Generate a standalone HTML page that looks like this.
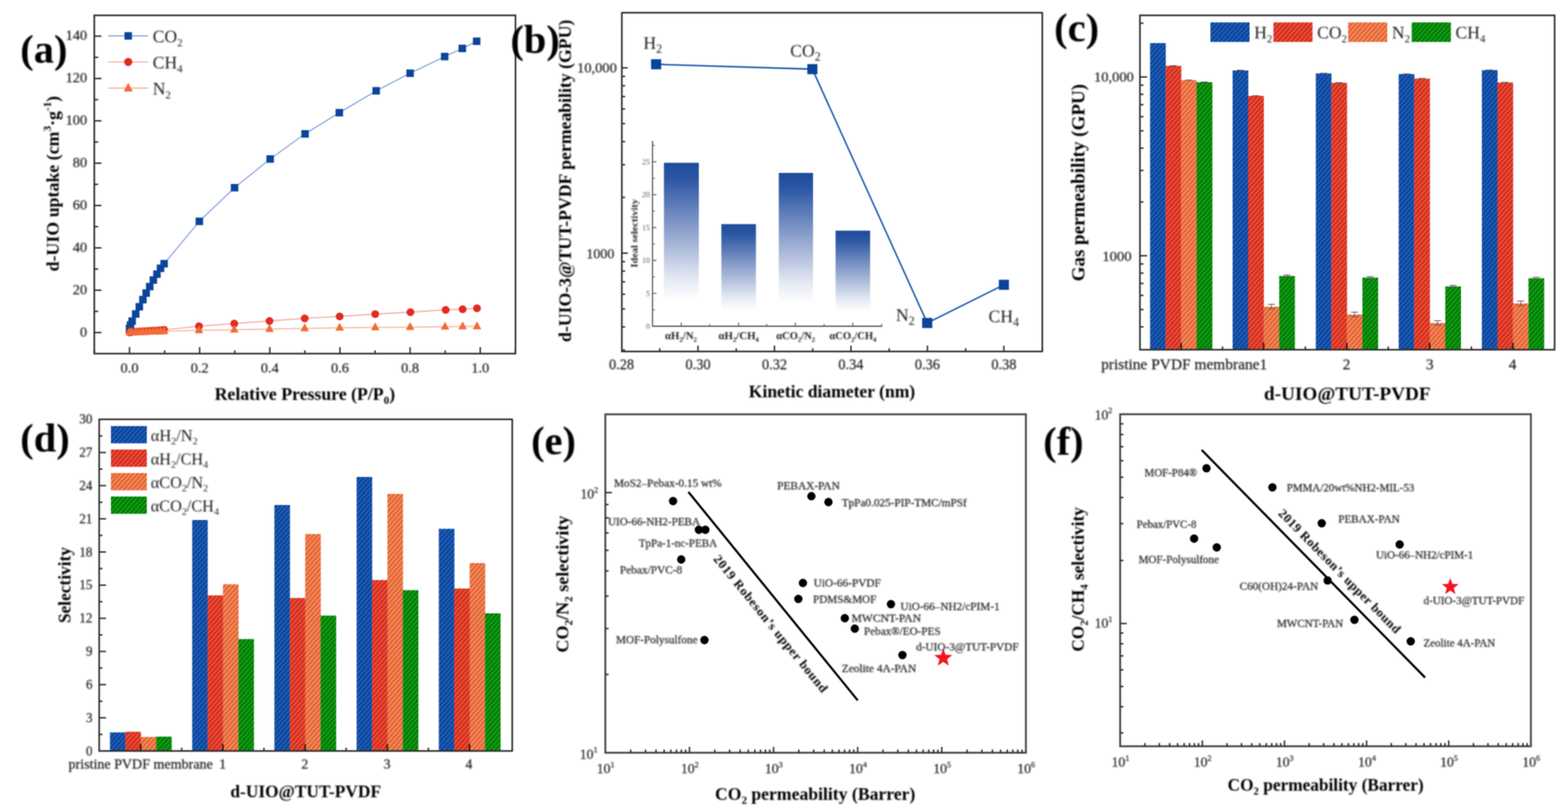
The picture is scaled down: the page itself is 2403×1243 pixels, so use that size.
<!DOCTYPE html>
<html lang="en"><head><meta charset="utf-8"><title>Gas separation figure</title>
<style>
html,body{margin:0;padding:0;background:#fff;}
body{width:2403px;height:1243px;overflow:hidden;}
svg{display:block;font-family:'Liberation Serif','DejaVu Serif',serif;}
</style></head><body>
<svg width="2403" height="1243" viewBox="0 0 2403 1243">
<defs>
<filter id="bt" x="0" y="0" width="2403" height="1243" filterUnits="userSpaceOnUse" color-interpolation-filters="sRGB"><feGaussianBlur stdDeviation="0.85"/></filter>
<filter id="bl" x="0" y="0" width="2403" height="1243" filterUnits="userSpaceOnUse" color-interpolation-filters="sRGB"><feConvolveMatrix order="3" kernelMatrix="1 2 1 2 4 2 1 2 1" divisor="16" edgeMode="duplicate" preserveAlpha="false"/></filter>
<pattern id="hb" width="5.2" height="5.2" patternUnits="userSpaceOnUse" patternTransform="rotate(-49)"><rect width="5.2" height="5.2" fill="#1d60ba"/><rect y="0" width="5.2" height="2.4" fill="#0b3e92"/></pattern>
<pattern id="hr" width="5.2" height="5.2" patternUnits="userSpaceOnUse" patternTransform="rotate(-49)"><rect width="5.2" height="5.2" fill="#f54a39"/><rect y="0" width="5.2" height="2.4" fill="#c22d1b"/></pattern>
<pattern id="ho" width="5.2" height="5.2" patternUnits="userSpaceOnUse" patternTransform="rotate(-49)"><rect width="5.2" height="5.2" fill="#ff8756"/><rect y="0" width="5.2" height="2.4" fill="#d26236"/></pattern>
<pattern id="hg" width="5.2" height="5.2" patternUnits="userSpaceOnUse" patternTransform="rotate(-49)"><rect width="5.2" height="5.2" fill="#0fa014"/><rect y="0" width="5.2" height="2.4" fill="#037105"/></pattern>
<linearGradient id="gb" x1="0" y1="0" x2="0" y2="1"><stop offset="0" stop-color="#1d4b9c"/><stop offset="0.12" stop-color="#2c57a4"/><stop offset="0.5" stop-color="#8fa3cd"/><stop offset="0.85" stop-color="#e6eaf4"/><stop offset="1" stop-color="#ffffff"/></linearGradient>
</defs>
<rect width="2403" height="1243" fill="#ffffff"/>
<g filter="url(#bl)">
<rect x="144.50" y="23.50" width="645.50" height="518.50" fill="none" stroke="#2e2e2e" stroke-width="2.50"/>
<line x1="144.50" y1="509.70" x2="155.50" y2="509.70" stroke="#2e2e2e" stroke-width="2.20"/>
<line x1="144.50" y1="444.80" x2="155.50" y2="444.80" stroke="#2e2e2e" stroke-width="2.20"/>
<line x1="144.50" y1="379.90" x2="155.50" y2="379.90" stroke="#2e2e2e" stroke-width="2.20"/>
<line x1="144.50" y1="315.00" x2="155.50" y2="315.00" stroke="#2e2e2e" stroke-width="2.20"/>
<line x1="144.50" y1="250.10" x2="155.50" y2="250.10" stroke="#2e2e2e" stroke-width="2.20"/>
<line x1="144.50" y1="185.20" x2="155.50" y2="185.20" stroke="#2e2e2e" stroke-width="2.20"/>
<line x1="144.50" y1="120.30" x2="155.50" y2="120.30" stroke="#2e2e2e" stroke-width="2.20"/>
<line x1="144.50" y1="55.40" x2="155.50" y2="55.40" stroke="#2e2e2e" stroke-width="2.20"/>
<line x1="144.50" y1="477.25" x2="150.50" y2="477.25" stroke="#2e2e2e" stroke-width="2.20"/>
<line x1="144.50" y1="412.35" x2="150.50" y2="412.35" stroke="#2e2e2e" stroke-width="2.20"/>
<line x1="144.50" y1="347.45" x2="150.50" y2="347.45" stroke="#2e2e2e" stroke-width="2.20"/>
<line x1="144.50" y1="282.55" x2="150.50" y2="282.55" stroke="#2e2e2e" stroke-width="2.20"/>
<line x1="144.50" y1="217.65" x2="150.50" y2="217.65" stroke="#2e2e2e" stroke-width="2.20"/>
<line x1="144.50" y1="152.75" x2="150.50" y2="152.75" stroke="#2e2e2e" stroke-width="2.20"/>
<line x1="144.50" y1="87.85" x2="150.50" y2="87.85" stroke="#2e2e2e" stroke-width="2.20"/>
<line x1="198.50" y1="542.00" x2="198.50" y2="532.00" stroke="#2e2e2e" stroke-width="2.20"/>
<line x1="306.00" y1="542.00" x2="306.00" y2="532.00" stroke="#2e2e2e" stroke-width="2.20"/>
<line x1="413.50" y1="542.00" x2="413.50" y2="532.00" stroke="#2e2e2e" stroke-width="2.20"/>
<line x1="521.00" y1="542.00" x2="521.00" y2="532.00" stroke="#2e2e2e" stroke-width="2.20"/>
<line x1="628.50" y1="542.00" x2="628.50" y2="532.00" stroke="#2e2e2e" stroke-width="2.20"/>
<line x1="736.00" y1="542.00" x2="736.00" y2="532.00" stroke="#2e2e2e" stroke-width="2.20"/>
<line x1="144.75" y1="542.00" x2="144.75" y2="537.00" stroke="#2e2e2e" stroke-width="2.20"/>
<line x1="252.25" y1="542.00" x2="252.25" y2="537.00" stroke="#2e2e2e" stroke-width="2.20"/>
<line x1="359.75" y1="542.00" x2="359.75" y2="537.00" stroke="#2e2e2e" stroke-width="2.20"/>
<line x1="467.25" y1="542.00" x2="467.25" y2="537.00" stroke="#2e2e2e" stroke-width="2.20"/>
<line x1="574.75" y1="542.00" x2="574.75" y2="537.00" stroke="#2e2e2e" stroke-width="2.20"/>
<line x1="682.25" y1="542.00" x2="682.25" y2="537.00" stroke="#2e2e2e" stroke-width="2.20"/>
<line x1="789.75" y1="542.00" x2="789.75" y2="537.00" stroke="#2e2e2e" stroke-width="2.20"/>
<polyline points="198.50,503.20 200.00,498.20 202.50,492.20 208.00,481.20 213.50,470.20 219.00,459.20 224.00,449.20 229.50,439.20 235.00,429.20 240.50,420.20 246.00,411.20 251.50,404.20 305.50,339.20 359.50,287.70 414.00,243.70 467.50,205.20 520.00,172.70 576.50,139.20 628.50,112.20 681.50,86.70 708.50,74.20 730.50,63.20" fill="none" stroke="#7d9ed4" stroke-width="1.60" stroke-linejoin="round"/>
<rect x="192.75" y="497.45" width="11.50" height="11.50" fill="#0b459b" stroke="none" stroke-width="0.00"/>
<rect x="194.25" y="492.45" width="11.50" height="11.50" fill="#0b459b" stroke="none" stroke-width="0.00"/>
<rect x="196.75" y="486.45" width="11.50" height="11.50" fill="#0b459b" stroke="none" stroke-width="0.00"/>
<rect x="202.25" y="475.45" width="11.50" height="11.50" fill="#0b459b" stroke="none" stroke-width="0.00"/>
<rect x="207.75" y="464.45" width="11.50" height="11.50" fill="#0b459b" stroke="none" stroke-width="0.00"/>
<rect x="213.25" y="453.45" width="11.50" height="11.50" fill="#0b459b" stroke="none" stroke-width="0.00"/>
<rect x="218.25" y="443.45" width="11.50" height="11.50" fill="#0b459b" stroke="none" stroke-width="0.00"/>
<rect x="223.75" y="433.45" width="11.50" height="11.50" fill="#0b459b" stroke="none" stroke-width="0.00"/>
<rect x="229.25" y="423.45" width="11.50" height="11.50" fill="#0b459b" stroke="none" stroke-width="0.00"/>
<rect x="234.75" y="414.45" width="11.50" height="11.50" fill="#0b459b" stroke="none" stroke-width="0.00"/>
<rect x="240.25" y="405.45" width="11.50" height="11.50" fill="#0b459b" stroke="none" stroke-width="0.00"/>
<rect x="245.75" y="398.45" width="11.50" height="11.50" fill="#0b459b" stroke="none" stroke-width="0.00"/>
<rect x="299.75" y="333.45" width="11.50" height="11.50" fill="#0b459b" stroke="none" stroke-width="0.00"/>
<rect x="353.75" y="281.95" width="11.50" height="11.50" fill="#0b459b" stroke="none" stroke-width="0.00"/>
<rect x="408.25" y="237.95" width="11.50" height="11.50" fill="#0b459b" stroke="none" stroke-width="0.00"/>
<rect x="461.75" y="199.45" width="11.50" height="11.50" fill="#0b459b" stroke="none" stroke-width="0.00"/>
<rect x="514.25" y="166.95" width="11.50" height="11.50" fill="#0b459b" stroke="none" stroke-width="0.00"/>
<rect x="570.75" y="133.45" width="11.50" height="11.50" fill="#0b459b" stroke="none" stroke-width="0.00"/>
<rect x="622.75" y="106.45" width="11.50" height="11.50" fill="#0b459b" stroke="none" stroke-width="0.00"/>
<rect x="675.75" y="80.95" width="11.50" height="11.50" fill="#0b459b" stroke="none" stroke-width="0.00"/>
<rect x="702.75" y="68.45" width="11.50" height="11.50" fill="#0b459b" stroke="none" stroke-width="0.00"/>
<rect x="724.75" y="57.45" width="11.50" height="11.50" fill="#0b459b" stroke="none" stroke-width="0.00"/>
<polyline points="198.50,509.40 200.00,509.10 202.50,508.80 208.00,508.40 213.50,508.10 219.00,507.70 224.00,507.40 229.50,507.10 235.00,506.70 240.50,506.40 246.00,506.00 251.50,505.60 305.00,499.90 359.00,495.90 413.00,491.90 467.00,487.90 520.50,484.90 575.00,481.40 629.00,478.40 683.00,474.90 709.00,473.90 731.00,472.40" fill="none" stroke="#f4a6a0" stroke-width="1.60" stroke-linejoin="round"/>
<circle cx="198.50" cy="509.40" r="6.00" fill="#df2c20"/>
<circle cx="200.00" cy="509.10" r="6.00" fill="#df2c20"/>
<circle cx="202.50" cy="508.80" r="6.00" fill="#df2c20"/>
<circle cx="208.00" cy="508.40" r="6.00" fill="#df2c20"/>
<circle cx="213.50" cy="508.10" r="6.00" fill="#df2c20"/>
<circle cx="219.00" cy="507.70" r="6.00" fill="#df2c20"/>
<circle cx="224.00" cy="507.40" r="6.00" fill="#df2c20"/>
<circle cx="229.50" cy="507.10" r="6.00" fill="#df2c20"/>
<circle cx="235.00" cy="506.70" r="6.00" fill="#df2c20"/>
<circle cx="240.50" cy="506.40" r="6.00" fill="#df2c20"/>
<circle cx="246.00" cy="506.00" r="6.00" fill="#df2c20"/>
<circle cx="251.50" cy="505.60" r="6.00" fill="#df2c20"/>
<circle cx="305.00" cy="499.90" r="6.00" fill="#df2c20"/>
<circle cx="359.00" cy="495.90" r="6.00" fill="#df2c20"/>
<circle cx="413.00" cy="491.90" r="6.00" fill="#df2c20"/>
<circle cx="467.00" cy="487.90" r="6.00" fill="#df2c20"/>
<circle cx="520.50" cy="484.90" r="6.00" fill="#df2c20"/>
<circle cx="575.00" cy="481.40" r="6.00" fill="#df2c20"/>
<circle cx="629.00" cy="478.40" r="6.00" fill="#df2c20"/>
<circle cx="683.00" cy="474.90" r="6.00" fill="#df2c20"/>
<circle cx="709.00" cy="473.90" r="6.00" fill="#df2c20"/>
<circle cx="731.00" cy="472.40" r="6.00" fill="#df2c20"/>
<polyline points="198.50,509.40 202.50,509.30 208.00,509.20 213.50,509.00 219.00,508.80 224.00,508.70 229.50,508.50 235.00,508.40 240.50,508.20 246.00,508.00 251.50,507.80 305.00,506.40 359.00,505.40 413.00,504.40 467.00,503.40 520.50,502.40 575.00,501.90 628.50,501.40 682.00,500.90 709.00,500.40 731.00,500.40" fill="none" stroke="#f9b49a" stroke-width="1.60" stroke-linejoin="round"/>
<polygon points="198.50,501.49 192.00,513.84 205.00,513.84" fill="#f26b38"/>
<polygon points="202.50,501.39 196.00,513.74 209.00,513.74" fill="#f26b38"/>
<polygon points="208.00,501.29 201.50,513.64 214.50,513.64" fill="#f26b38"/>
<polygon points="213.50,501.09 207.00,513.44 220.00,513.44" fill="#f26b38"/>
<polygon points="219.00,500.89 212.50,513.24 225.50,513.24" fill="#f26b38"/>
<polygon points="224.00,500.79 217.50,513.14 230.50,513.14" fill="#f26b38"/>
<polygon points="229.50,500.59 223.00,512.94 236.00,512.94" fill="#f26b38"/>
<polygon points="235.00,500.49 228.50,512.84 241.50,512.84" fill="#f26b38"/>
<polygon points="240.50,500.29 234.00,512.64 247.00,512.64" fill="#f26b38"/>
<polygon points="246.00,500.09 239.50,512.44 252.50,512.44" fill="#f26b38"/>
<polygon points="251.50,499.89 245.00,512.24 258.00,512.24" fill="#f26b38"/>
<polygon points="305.00,498.49 298.50,510.84 311.50,510.84" fill="#f26b38"/>
<polygon points="359.00,497.49 352.50,509.84 365.50,509.84" fill="#f26b38"/>
<polygon points="413.00,496.49 406.50,508.84 419.50,508.84" fill="#f26b38"/>
<polygon points="467.00,495.49 460.50,507.84 473.50,507.84" fill="#f26b38"/>
<polygon points="520.50,494.49 514.00,506.84 527.00,506.84" fill="#f26b38"/>
<polygon points="575.00,493.99 568.50,506.34 581.50,506.34" fill="#f26b38"/>
<polygon points="628.50,493.49 622.00,505.84 635.00,505.84" fill="#f26b38"/>
<polygon points="682.00,492.99 675.50,505.34 688.50,505.34" fill="#f26b38"/>
<polygon points="709.00,492.49 702.50,504.84 715.50,504.84" fill="#f26b38"/>
<polygon points="731.00,492.49 724.50,504.84 737.50,504.84" fill="#f26b38"/>
<line x1="166.00" y1="55.00" x2="227.00" y2="55.00" stroke="#8eabd8" stroke-width="2.20"/>
<rect x="190.75" y="49.25" width="11.50" height="11.50" fill="#0b459b" stroke="none" stroke-width="0.00"/>
<line x1="166.00" y1="95.00" x2="227.00" y2="95.00" stroke="#f7b9b4" stroke-width="2.20"/>
<circle cx="196.50" cy="95.00" r="6.20" fill="#df2c20"/>
<line x1="166.00" y1="135.00" x2="227.00" y2="135.00" stroke="#fbb698" stroke-width="2.20"/>
<polygon points="196.50,127.02 189.50,140.32 203.50,140.32" fill="#f26b38"/>
<rect x="953.00" y="19.50" width="644.30" height="519.20" fill="none" stroke="#2e2e2e" stroke-width="2.50"/>
<line x1="953.00" y1="536.50" x2="958.00" y2="536.50" stroke="#2e2e2e" stroke-width="2.20"/>
<line x1="953.00" y1="501.01" x2="958.00" y2="501.01" stroke="#2e2e2e" stroke-width="2.20"/>
<line x1="953.00" y1="473.49" x2="958.00" y2="473.49" stroke="#2e2e2e" stroke-width="2.20"/>
<line x1="953.00" y1="451.01" x2="958.00" y2="451.01" stroke="#2e2e2e" stroke-width="2.20"/>
<line x1="953.00" y1="431.99" x2="958.00" y2="431.99" stroke="#2e2e2e" stroke-width="2.20"/>
<line x1="953.00" y1="415.52" x2="958.00" y2="415.52" stroke="#2e2e2e" stroke-width="2.20"/>
<line x1="953.00" y1="401.00" x2="958.00" y2="401.00" stroke="#2e2e2e" stroke-width="2.20"/>
<line x1="953.00" y1="388.00" x2="962.00" y2="388.00" stroke="#2e2e2e" stroke-width="2.20"/>
<line x1="953.00" y1="302.51" x2="958.00" y2="302.51" stroke="#2e2e2e" stroke-width="2.20"/>
<line x1="953.00" y1="252.50" x2="958.00" y2="252.50" stroke="#2e2e2e" stroke-width="2.20"/>
<line x1="953.00" y1="217.01" x2="958.00" y2="217.01" stroke="#2e2e2e" stroke-width="2.20"/>
<line x1="953.00" y1="189.49" x2="958.00" y2="189.49" stroke="#2e2e2e" stroke-width="2.20"/>
<line x1="953.00" y1="167.01" x2="958.00" y2="167.01" stroke="#2e2e2e" stroke-width="2.20"/>
<line x1="953.00" y1="147.99" x2="958.00" y2="147.99" stroke="#2e2e2e" stroke-width="2.20"/>
<line x1="953.00" y1="131.52" x2="958.00" y2="131.52" stroke="#2e2e2e" stroke-width="2.20"/>
<line x1="953.00" y1="117.00" x2="958.00" y2="117.00" stroke="#2e2e2e" stroke-width="2.20"/>
<line x1="953.00" y1="104.00" x2="962.00" y2="104.00" stroke="#2e2e2e" stroke-width="2.20"/>
<line x1="1011.10" y1="538.70" x2="1011.10" y2="533.70" stroke="#2e2e2e" stroke-width="2.20"/>
<line x1="1069.70" y1="538.70" x2="1069.70" y2="529.70" stroke="#2e2e2e" stroke-width="2.20"/>
<line x1="1128.30" y1="538.70" x2="1128.30" y2="533.70" stroke="#2e2e2e" stroke-width="2.20"/>
<line x1="1186.90" y1="538.70" x2="1186.90" y2="529.70" stroke="#2e2e2e" stroke-width="2.20"/>
<line x1="1245.50" y1="538.70" x2="1245.50" y2="533.70" stroke="#2e2e2e" stroke-width="2.20"/>
<line x1="1304.10" y1="538.70" x2="1304.10" y2="529.70" stroke="#2e2e2e" stroke-width="2.20"/>
<line x1="1362.70" y1="538.70" x2="1362.70" y2="533.70" stroke="#2e2e2e" stroke-width="2.20"/>
<line x1="1421.30" y1="538.70" x2="1421.30" y2="529.70" stroke="#2e2e2e" stroke-width="2.20"/>
<line x1="1479.90" y1="538.70" x2="1479.90" y2="533.70" stroke="#2e2e2e" stroke-width="2.20"/>
<line x1="1538.50" y1="538.70" x2="1538.50" y2="529.70" stroke="#2e2e2e" stroke-width="2.20"/>
<line x1="1597.10" y1="538.70" x2="1597.10" y2="533.70" stroke="#2e2e2e" stroke-width="2.20"/>
<rect x="1017.50" y="249.50" width="53.50" height="210.50" fill="url(#gb)" stroke="none" stroke-width="0.00"/>
<rect x="1105.50" y="343.50" width="53.00" height="132.50" fill="url(#gb)" stroke="none" stroke-width="0.00"/>
<rect x="1193.50" y="265.00" width="52.50" height="200.00" fill="url(#gb)" stroke="none" stroke-width="0.00"/>
<rect x="1280.50" y="353.50" width="53.00" height="124.50" fill="url(#gb)" stroke="none" stroke-width="0.00"/>
<line x1="1000.00" y1="216.00" x2="1000.00" y2="500.80" stroke="#5a5a5a" stroke-width="1.80"/>
<line x1="1000.00" y1="500.00" x2="1352.00" y2="500.00" stroke="#5a5a5a" stroke-width="1.80"/>
<line x1="1000.00" y1="449.60" x2="1006.00" y2="449.60" stroke="#5a5a5a" stroke-width="1.50"/>
<line x1="1000.00" y1="399.20" x2="1006.00" y2="399.20" stroke="#5a5a5a" stroke-width="1.50"/>
<line x1="1000.00" y1="348.80" x2="1006.00" y2="348.80" stroke="#5a5a5a" stroke-width="1.50"/>
<line x1="1000.00" y1="298.40" x2="1006.00" y2="298.40" stroke="#5a5a5a" stroke-width="1.50"/>
<line x1="1000.00" y1="248.00" x2="1006.00" y2="248.00" stroke="#5a5a5a" stroke-width="1.50"/>
<line x1="1000.00" y1="474.80" x2="1003.50" y2="474.80" stroke="#5a5a5a" stroke-width="1.50"/>
<line x1="1000.00" y1="424.40" x2="1003.50" y2="424.40" stroke="#5a5a5a" stroke-width="1.50"/>
<line x1="1000.00" y1="374.00" x2="1003.50" y2="374.00" stroke="#5a5a5a" stroke-width="1.50"/>
<line x1="1000.00" y1="323.60" x2="1003.50" y2="323.60" stroke="#5a5a5a" stroke-width="1.50"/>
<line x1="1000.00" y1="273.20" x2="1003.50" y2="273.20" stroke="#5a5a5a" stroke-width="1.50"/>
<line x1="1000.00" y1="222.80" x2="1003.50" y2="222.80" stroke="#5a5a5a" stroke-width="1.50"/>
<line x1="1044.00" y1="500.00" x2="1044.00" y2="494.50" stroke="#5a5a5a" stroke-width="1.50"/>
<line x1="1087.50" y1="500.00" x2="1087.50" y2="496.50" stroke="#5a5a5a" stroke-width="1.50"/>
<line x1="1132.00" y1="500.00" x2="1132.00" y2="494.50" stroke="#5a5a5a" stroke-width="1.50"/>
<line x1="1175.00" y1="500.00" x2="1175.00" y2="496.50" stroke="#5a5a5a" stroke-width="1.50"/>
<line x1="1219.00" y1="500.00" x2="1219.00" y2="494.50" stroke="#5a5a5a" stroke-width="1.50"/>
<line x1="1263.00" y1="500.00" x2="1263.00" y2="496.50" stroke="#5a5a5a" stroke-width="1.50"/>
<line x1="1307.00" y1="500.00" x2="1307.00" y2="494.50" stroke="#5a5a5a" stroke-width="1.50"/>
<line x1="1351.30" y1="500.00" x2="1351.30" y2="496.50" stroke="#5a5a5a" stroke-width="1.50"/>
<polyline points="1005.50,98.50 1245.00,106.00 1421.00,495.00 1538.50,436.50" fill="none" stroke="#1c58ac" stroke-width="2.30" stroke-linejoin="round"/>
<rect x="997.75" y="90.75" width="15.50" height="15.50" fill="#0b459b" stroke="none" stroke-width="0.00"/>
<rect x="1237.25" y="98.25" width="15.50" height="15.50" fill="#0b459b" stroke="none" stroke-width="0.00"/>
<rect x="1413.25" y="487.25" width="15.50" height="15.50" fill="#0b459b" stroke="none" stroke-width="0.00"/>
<rect x="1530.75" y="428.75" width="15.50" height="15.50" fill="#0b459b" stroke="none" stroke-width="0.00"/>
<rect x="1762.50" y="66.00" width="24.10" height="470.00" fill="url(#hb)" stroke="none" stroke-width="0.00"/>
<rect x="1786.30" y="101.00" width="24.10" height="435.00" fill="url(#hr)" stroke="none" stroke-width="0.00"/>
<rect x="1810.10" y="123.00" width="24.10" height="413.00" fill="url(#ho)" stroke="none" stroke-width="0.00"/>
<rect x="1833.90" y="126.00" width="24.10" height="410.00" fill="url(#hg)" stroke="none" stroke-width="0.00"/>
<rect x="1889.00" y="108.00" width="24.10" height="428.00" fill="url(#hb)" stroke="none" stroke-width="0.00"/>
<rect x="1912.80" y="147.00" width="24.10" height="389.00" fill="url(#hr)" stroke="none" stroke-width="0.00"/>
<rect x="1936.60" y="470.00" width="24.10" height="66.00" fill="url(#ho)" stroke="none" stroke-width="0.00"/>
<rect x="1960.40" y="423.00" width="24.10" height="113.00" fill="url(#hg)" stroke="none" stroke-width="0.00"/>
<rect x="2016.50" y="112.50" width="24.10" height="423.50" fill="url(#hb)" stroke="none" stroke-width="0.00"/>
<rect x="2040.30" y="127.00" width="24.10" height="409.00" fill="url(#hr)" stroke="none" stroke-width="0.00"/>
<rect x="2064.10" y="482.00" width="24.10" height="54.00" fill="url(#ho)" stroke="none" stroke-width="0.00"/>
<rect x="2087.90" y="425.50" width="24.10" height="110.50" fill="url(#hg)" stroke="none" stroke-width="0.00"/>
<rect x="2143.50" y="113.50" width="24.10" height="422.50" fill="url(#hb)" stroke="none" stroke-width="0.00"/>
<rect x="2167.30" y="120.50" width="24.10" height="415.50" fill="url(#hr)" stroke="none" stroke-width="0.00"/>
<rect x="2191.10" y="495.00" width="24.10" height="41.00" fill="url(#ho)" stroke="none" stroke-width="0.00"/>
<rect x="2214.90" y="439.00" width="24.10" height="97.00" fill="url(#hg)" stroke="none" stroke-width="0.00"/>
<rect x="2271.00" y="107.50" width="24.10" height="428.50" fill="url(#hb)" stroke="none" stroke-width="0.00"/>
<rect x="2294.80" y="126.50" width="24.10" height="409.50" fill="url(#hr)" stroke="none" stroke-width="0.00"/>
<rect x="2318.60" y="465.00" width="24.10" height="71.00" fill="url(#ho)" stroke="none" stroke-width="0.00"/>
<rect x="2342.40" y="426.50" width="24.10" height="109.50" fill="url(#hg)" stroke="none" stroke-width="0.00"/>
<line x1="1792.70" y1="100.70" x2="1803.70" y2="100.70" stroke="#4a4040" stroke-width="1.10"/>
<line x1="1816.50" y1="122.70" x2="1827.50" y2="122.70" stroke="#4a4040" stroke-width="1.10"/>
<line x1="1840.30" y1="125.70" x2="1851.30" y2="125.70" stroke="#4a4040" stroke-width="1.10"/>
<line x1="1895.40" y1="107.70" x2="1906.40" y2="107.70" stroke="#4a4040" stroke-width="1.10"/>
<line x1="1919.20" y1="146.70" x2="1930.20" y2="146.70" stroke="#4a4040" stroke-width="1.10"/>
<line x1="1943.00" y1="466.50" x2="1954.00" y2="466.50" stroke="#4a4040" stroke-width="1.10"/>
<line x1="1948.50" y1="466.50" x2="1948.50" y2="473.50" stroke="#5a5050" stroke-width="1.00"/>
<line x1="1943.00" y1="473.50" x2="1954.00" y2="473.50" stroke="#5a5050" stroke-width="0.90"/>
<line x1="1966.80" y1="421.50" x2="1977.80" y2="421.50" stroke="#4a4040" stroke-width="1.10"/>
<line x1="1972.30" y1="421.50" x2="1972.30" y2="424.50" stroke="#5a5050" stroke-width="1.00"/>
<line x1="1966.80" y1="424.50" x2="1977.80" y2="424.50" stroke="#5a5050" stroke-width="0.90"/>
<line x1="2022.90" y1="112.20" x2="2033.90" y2="112.20" stroke="#4a4040" stroke-width="1.10"/>
<line x1="2046.70" y1="126.70" x2="2057.70" y2="126.70" stroke="#4a4040" stroke-width="1.10"/>
<line x1="2070.50" y1="478.50" x2="2081.50" y2="478.50" stroke="#4a4040" stroke-width="1.10"/>
<line x1="2076.00" y1="478.50" x2="2076.00" y2="485.50" stroke="#5a5050" stroke-width="1.00"/>
<line x1="2070.50" y1="485.50" x2="2081.50" y2="485.50" stroke="#5a5050" stroke-width="0.90"/>
<line x1="2094.30" y1="424.00" x2="2105.30" y2="424.00" stroke="#4a4040" stroke-width="1.10"/>
<line x1="2099.80" y1="424.00" x2="2099.80" y2="427.00" stroke="#5a5050" stroke-width="1.00"/>
<line x1="2094.30" y1="427.00" x2="2105.30" y2="427.00" stroke="#5a5050" stroke-width="0.90"/>
<line x1="2149.90" y1="113.20" x2="2160.90" y2="113.20" stroke="#4a4040" stroke-width="1.10"/>
<line x1="2173.70" y1="120.20" x2="2184.70" y2="120.20" stroke="#4a4040" stroke-width="1.10"/>
<line x1="2197.50" y1="491.50" x2="2208.50" y2="491.50" stroke="#4a4040" stroke-width="1.10"/>
<line x1="2203.00" y1="491.50" x2="2203.00" y2="498.50" stroke="#5a5050" stroke-width="1.00"/>
<line x1="2197.50" y1="498.50" x2="2208.50" y2="498.50" stroke="#5a5050" stroke-width="0.90"/>
<line x1="2221.30" y1="437.50" x2="2232.30" y2="437.50" stroke="#4a4040" stroke-width="1.10"/>
<line x1="2226.80" y1="437.50" x2="2226.80" y2="440.50" stroke="#5a5050" stroke-width="1.00"/>
<line x1="2221.30" y1="440.50" x2="2232.30" y2="440.50" stroke="#5a5050" stroke-width="0.90"/>
<line x1="2277.40" y1="107.20" x2="2288.40" y2="107.20" stroke="#4a4040" stroke-width="1.10"/>
<line x1="2301.20" y1="126.20" x2="2312.20" y2="126.20" stroke="#4a4040" stroke-width="1.10"/>
<line x1="2325.00" y1="461.50" x2="2336.00" y2="461.50" stroke="#4a4040" stroke-width="1.10"/>
<line x1="2330.50" y1="461.50" x2="2330.50" y2="468.50" stroke="#5a5050" stroke-width="1.00"/>
<line x1="2325.00" y1="468.50" x2="2336.00" y2="468.50" stroke="#5a5050" stroke-width="0.90"/>
<line x1="2348.80" y1="425.00" x2="2359.80" y2="425.00" stroke="#4a4040" stroke-width="1.10"/>
<line x1="2354.30" y1="425.00" x2="2354.30" y2="428.00" stroke="#5a5050" stroke-width="1.00"/>
<line x1="2348.80" y1="428.00" x2="2359.80" y2="428.00" stroke="#5a5050" stroke-width="0.90"/>
<rect x="1747.00" y="23.50" width="635.50" height="512.50" fill="none" stroke="#2e2e2e" stroke-width="2.50"/>
<line x1="1747.00" y1="501.04" x2="1752.50" y2="501.04" stroke="#2e2e2e" stroke-width="2.20"/>
<line x1="1747.00" y1="474.48" x2="1752.50" y2="474.48" stroke="#2e2e2e" stroke-width="2.20"/>
<line x1="1747.00" y1="452.79" x2="1752.50" y2="452.79" stroke="#2e2e2e" stroke-width="2.20"/>
<line x1="1747.00" y1="434.44" x2="1752.50" y2="434.44" stroke="#2e2e2e" stroke-width="2.20"/>
<line x1="1747.00" y1="418.55" x2="1752.50" y2="418.55" stroke="#2e2e2e" stroke-width="2.20"/>
<line x1="1747.00" y1="404.54" x2="1752.50" y2="404.54" stroke="#2e2e2e" stroke-width="2.20"/>
<line x1="1747.00" y1="392.00" x2="1758.00" y2="392.00" stroke="#2e2e2e" stroke-width="2.20"/>
<line x1="1747.00" y1="309.52" x2="1752.50" y2="309.52" stroke="#2e2e2e" stroke-width="2.20"/>
<line x1="1747.00" y1="261.27" x2="1752.50" y2="261.27" stroke="#2e2e2e" stroke-width="2.20"/>
<line x1="1747.00" y1="227.04" x2="1752.50" y2="227.04" stroke="#2e2e2e" stroke-width="2.20"/>
<line x1="1747.00" y1="200.48" x2="1752.50" y2="200.48" stroke="#2e2e2e" stroke-width="2.20"/>
<line x1="1747.00" y1="178.79" x2="1752.50" y2="178.79" stroke="#2e2e2e" stroke-width="2.20"/>
<line x1="1747.00" y1="160.44" x2="1752.50" y2="160.44" stroke="#2e2e2e" stroke-width="2.20"/>
<line x1="1747.00" y1="144.55" x2="1752.50" y2="144.55" stroke="#2e2e2e" stroke-width="2.20"/>
<line x1="1747.00" y1="130.54" x2="1752.50" y2="130.54" stroke="#2e2e2e" stroke-width="2.20"/>
<line x1="1747.00" y1="118.00" x2="1758.00" y2="118.00" stroke="#2e2e2e" stroke-width="2.20"/>
<line x1="1747.00" y1="35.52" x2="1752.50" y2="35.52" stroke="#2e2e2e" stroke-width="2.20"/>
<line x1="1810.10" y1="536.00" x2="1810.10" y2="525.50" stroke="#1a1a1a" stroke-width="2.20"/>
<line x1="1936.60" y1="536.00" x2="1936.60" y2="525.50" stroke="#1a1a1a" stroke-width="2.20"/>
<line x1="2064.10" y1="536.00" x2="2064.10" y2="525.50" stroke="#1a1a1a" stroke-width="2.20"/>
<line x1="2191.10" y1="536.00" x2="2191.10" y2="525.50" stroke="#1a1a1a" stroke-width="2.20"/>
<line x1="2318.60" y1="536.00" x2="2318.60" y2="525.50" stroke="#1a1a1a" stroke-width="2.20"/>
<line x1="1873.50" y1="536.00" x2="1873.50" y2="531.00" stroke="#2e2e2e" stroke-width="2.20"/>
<line x1="2000.50" y1="536.00" x2="2000.50" y2="531.00" stroke="#2e2e2e" stroke-width="2.20"/>
<line x1="2127.50" y1="536.00" x2="2127.50" y2="531.00" stroke="#2e2e2e" stroke-width="2.20"/>
<line x1="2255.00" y1="536.00" x2="2255.00" y2="531.00" stroke="#2e2e2e" stroke-width="2.20"/>
<rect x="1855.00" y="34.30" width="60.00" height="30.00" fill="url(#hb)" stroke="none" stroke-width="0.00"/>
<rect x="1951.50" y="34.30" width="60.00" height="30.00" fill="url(#hr)" stroke="none" stroke-width="0.00"/>
<rect x="2066.00" y="34.30" width="60.00" height="30.00" fill="url(#ho)" stroke="none" stroke-width="0.00"/>
<rect x="2163.50" y="34.30" width="60.00" height="30.00" fill="url(#hg)" stroke="none" stroke-width="0.00"/>
<rect x="168.50" y="1122.50" width="23.90" height="28.50" fill="url(#hb)" stroke="none" stroke-width="0.00"/>
<rect x="192.10" y="1121.50" width="23.90" height="29.50" fill="url(#hr)" stroke="none" stroke-width="0.00"/>
<rect x="215.70" y="1129.50" width="23.90" height="21.50" fill="url(#ho)" stroke="none" stroke-width="0.00"/>
<rect x="239.30" y="1129.00" width="23.90" height="22.00" fill="url(#hg)" stroke="none" stroke-width="0.00"/>
<rect x="294.50" y="797.00" width="23.90" height="354.00" fill="url(#hb)" stroke="none" stroke-width="0.00"/>
<rect x="318.10" y="912.50" width="23.90" height="238.50" fill="url(#hr)" stroke="none" stroke-width="0.00"/>
<rect x="341.70" y="895.50" width="23.90" height="255.50" fill="url(#ho)" stroke="none" stroke-width="0.00"/>
<rect x="365.30" y="979.50" width="23.90" height="171.50" fill="url(#hg)" stroke="none" stroke-width="0.00"/>
<rect x="420.50" y="774.00" width="23.90" height="377.00" fill="url(#hb)" stroke="none" stroke-width="0.00"/>
<rect x="444.10" y="916.50" width="23.90" height="234.50" fill="url(#hr)" stroke="none" stroke-width="0.00"/>
<rect x="467.70" y="818.50" width="23.90" height="332.50" fill="url(#ho)" stroke="none" stroke-width="0.00"/>
<rect x="491.30" y="943.50" width="23.90" height="207.50" fill="url(#hg)" stroke="none" stroke-width="0.00"/>
<rect x="546.50" y="731.00" width="23.90" height="420.00" fill="url(#hb)" stroke="none" stroke-width="0.00"/>
<rect x="570.10" y="889.00" width="23.90" height="262.00" fill="url(#hr)" stroke="none" stroke-width="0.00"/>
<rect x="593.70" y="757.00" width="23.90" height="394.00" fill="url(#ho)" stroke="none" stroke-width="0.00"/>
<rect x="617.30" y="904.50" width="23.90" height="246.50" fill="url(#hg)" stroke="none" stroke-width="0.00"/>
<rect x="672.50" y="810.50" width="23.90" height="340.50" fill="url(#hb)" stroke="none" stroke-width="0.00"/>
<rect x="696.10" y="902.00" width="23.90" height="249.00" fill="url(#hr)" stroke="none" stroke-width="0.00"/>
<rect x="719.70" y="863.00" width="23.90" height="288.00" fill="url(#ho)" stroke="none" stroke-width="0.00"/>
<rect x="743.30" y="940.00" width="23.90" height="211.00" fill="url(#hg)" stroke="none" stroke-width="0.00"/>
<rect x="152.00" y="642.70" width="633.00" height="508.30" fill="none" stroke="#2e2e2e" stroke-width="2.50"/>
<line x1="152.00" y1="1125.59" x2="157.00" y2="1125.59" stroke="#2e2e2e" stroke-width="2.20"/>
<line x1="152.00" y1="1100.17" x2="162.50" y2="1100.17" stroke="#2e2e2e" stroke-width="2.20"/>
<line x1="152.00" y1="1074.76" x2="157.00" y2="1074.76" stroke="#2e2e2e" stroke-width="2.20"/>
<line x1="152.00" y1="1049.34" x2="162.50" y2="1049.34" stroke="#2e2e2e" stroke-width="2.20"/>
<line x1="152.00" y1="1023.92" x2="157.00" y2="1023.92" stroke="#2e2e2e" stroke-width="2.20"/>
<line x1="152.00" y1="998.51" x2="162.50" y2="998.51" stroke="#2e2e2e" stroke-width="2.20"/>
<line x1="152.00" y1="973.10" x2="157.00" y2="973.10" stroke="#2e2e2e" stroke-width="2.20"/>
<line x1="152.00" y1="947.68" x2="162.50" y2="947.68" stroke="#2e2e2e" stroke-width="2.20"/>
<line x1="152.00" y1="922.27" x2="157.00" y2="922.27" stroke="#2e2e2e" stroke-width="2.20"/>
<line x1="152.00" y1="896.85" x2="162.50" y2="896.85" stroke="#2e2e2e" stroke-width="2.20"/>
<line x1="152.00" y1="871.44" x2="157.00" y2="871.44" stroke="#2e2e2e" stroke-width="2.20"/>
<line x1="152.00" y1="846.02" x2="162.50" y2="846.02" stroke="#2e2e2e" stroke-width="2.20"/>
<line x1="152.00" y1="820.61" x2="157.00" y2="820.61" stroke="#2e2e2e" stroke-width="2.20"/>
<line x1="152.00" y1="795.19" x2="162.50" y2="795.19" stroke="#2e2e2e" stroke-width="2.20"/>
<line x1="152.00" y1="769.78" x2="157.00" y2="769.78" stroke="#2e2e2e" stroke-width="2.20"/>
<line x1="152.00" y1="744.36" x2="162.50" y2="744.36" stroke="#2e2e2e" stroke-width="2.20"/>
<line x1="152.00" y1="718.95" x2="157.00" y2="718.95" stroke="#2e2e2e" stroke-width="2.20"/>
<line x1="152.00" y1="693.53" x2="162.50" y2="693.53" stroke="#2e2e2e" stroke-width="2.20"/>
<line x1="152.00" y1="668.12" x2="157.00" y2="668.12" stroke="#2e2e2e" stroke-width="2.20"/>
<line x1="215.70" y1="1151.00" x2="215.70" y2="1140.50" stroke="#1a1a1a" stroke-width="2.20"/>
<line x1="341.70" y1="1151.00" x2="341.70" y2="1140.50" stroke="#1a1a1a" stroke-width="2.20"/>
<line x1="467.70" y1="1151.00" x2="467.70" y2="1140.50" stroke="#1a1a1a" stroke-width="2.20"/>
<line x1="593.70" y1="1151.00" x2="593.70" y2="1140.50" stroke="#1a1a1a" stroke-width="2.20"/>
<line x1="719.70" y1="1151.00" x2="719.70" y2="1140.50" stroke="#1a1a1a" stroke-width="2.20"/>
<line x1="278.50" y1="1151.00" x2="278.50" y2="1146.00" stroke="#2e2e2e" stroke-width="2.20"/>
<line x1="404.50" y1="1151.00" x2="404.50" y2="1146.00" stroke="#2e2e2e" stroke-width="2.20"/>
<line x1="530.50" y1="1151.00" x2="530.50" y2="1146.00" stroke="#2e2e2e" stroke-width="2.20"/>
<line x1="656.50" y1="1151.00" x2="656.50" y2="1146.00" stroke="#2e2e2e" stroke-width="2.20"/>
<rect x="170.00" y="653.00" width="55.00" height="26.50" fill="url(#hb)" stroke="none" stroke-width="0.00"/>
<rect x="170.00" y="689.00" width="55.00" height="26.50" fill="url(#hr)" stroke="none" stroke-width="0.00"/>
<rect x="170.00" y="725.00" width="55.00" height="26.50" fill="url(#ho)" stroke="none" stroke-width="0.00"/>
<rect x="170.00" y="761.00" width="55.00" height="26.50" fill="url(#hg)" stroke="none" stroke-width="0.00"/>
<rect x="927.70" y="635.00" width="644.50" height="518.70" fill="none" stroke="#484848" stroke-width="2.90"/>
<line x1="966.50" y1="1153.70" x2="966.50" y2="1148.70" stroke="#2e2e2e" stroke-width="2.20"/>
<line x1="989.20" y1="1153.70" x2="989.20" y2="1148.70" stroke="#2e2e2e" stroke-width="2.20"/>
<line x1="1005.31" y1="1153.70" x2="1005.31" y2="1148.70" stroke="#2e2e2e" stroke-width="2.20"/>
<line x1="1017.80" y1="1153.70" x2="1017.80" y2="1148.70" stroke="#2e2e2e" stroke-width="2.20"/>
<line x1="1028.00" y1="1153.70" x2="1028.00" y2="1148.70" stroke="#2e2e2e" stroke-width="2.20"/>
<line x1="1036.63" y1="1153.70" x2="1036.63" y2="1148.70" stroke="#2e2e2e" stroke-width="2.20"/>
<line x1="1044.11" y1="1153.70" x2="1044.11" y2="1148.70" stroke="#2e2e2e" stroke-width="2.20"/>
<line x1="1050.70" y1="1153.70" x2="1050.70" y2="1148.70" stroke="#2e2e2e" stroke-width="2.20"/>
<line x1="1056.60" y1="1153.70" x2="1056.60" y2="1144.70" stroke="#2e2e2e" stroke-width="2.20"/>
<line x1="1095.40" y1="1153.70" x2="1095.40" y2="1148.70" stroke="#2e2e2e" stroke-width="2.20"/>
<line x1="1118.10" y1="1153.70" x2="1118.10" y2="1148.70" stroke="#2e2e2e" stroke-width="2.20"/>
<line x1="1134.21" y1="1153.70" x2="1134.21" y2="1148.70" stroke="#2e2e2e" stroke-width="2.20"/>
<line x1="1146.70" y1="1153.70" x2="1146.70" y2="1148.70" stroke="#2e2e2e" stroke-width="2.20"/>
<line x1="1156.90" y1="1153.70" x2="1156.90" y2="1148.70" stroke="#2e2e2e" stroke-width="2.20"/>
<line x1="1165.53" y1="1153.70" x2="1165.53" y2="1148.70" stroke="#2e2e2e" stroke-width="2.20"/>
<line x1="1173.01" y1="1153.70" x2="1173.01" y2="1148.70" stroke="#2e2e2e" stroke-width="2.20"/>
<line x1="1179.60" y1="1153.70" x2="1179.60" y2="1148.70" stroke="#2e2e2e" stroke-width="2.20"/>
<line x1="1185.50" y1="1153.70" x2="1185.50" y2="1144.70" stroke="#2e2e2e" stroke-width="2.20"/>
<line x1="1224.30" y1="1153.70" x2="1224.30" y2="1148.70" stroke="#2e2e2e" stroke-width="2.20"/>
<line x1="1247.00" y1="1153.70" x2="1247.00" y2="1148.70" stroke="#2e2e2e" stroke-width="2.20"/>
<line x1="1263.11" y1="1153.70" x2="1263.11" y2="1148.70" stroke="#2e2e2e" stroke-width="2.20"/>
<line x1="1275.60" y1="1153.70" x2="1275.60" y2="1148.70" stroke="#2e2e2e" stroke-width="2.20"/>
<line x1="1285.80" y1="1153.70" x2="1285.80" y2="1148.70" stroke="#2e2e2e" stroke-width="2.20"/>
<line x1="1294.43" y1="1153.70" x2="1294.43" y2="1148.70" stroke="#2e2e2e" stroke-width="2.20"/>
<line x1="1301.91" y1="1153.70" x2="1301.91" y2="1148.70" stroke="#2e2e2e" stroke-width="2.20"/>
<line x1="1308.50" y1="1153.70" x2="1308.50" y2="1148.70" stroke="#2e2e2e" stroke-width="2.20"/>
<line x1="1314.40" y1="1153.70" x2="1314.40" y2="1144.70" stroke="#2e2e2e" stroke-width="2.20"/>
<line x1="1353.20" y1="1153.70" x2="1353.20" y2="1148.70" stroke="#2e2e2e" stroke-width="2.20"/>
<line x1="1375.90" y1="1153.70" x2="1375.90" y2="1148.70" stroke="#2e2e2e" stroke-width="2.20"/>
<line x1="1392.01" y1="1153.70" x2="1392.01" y2="1148.70" stroke="#2e2e2e" stroke-width="2.20"/>
<line x1="1404.50" y1="1153.70" x2="1404.50" y2="1148.70" stroke="#2e2e2e" stroke-width="2.20"/>
<line x1="1414.70" y1="1153.70" x2="1414.70" y2="1148.70" stroke="#2e2e2e" stroke-width="2.20"/>
<line x1="1423.33" y1="1153.70" x2="1423.33" y2="1148.70" stroke="#2e2e2e" stroke-width="2.20"/>
<line x1="1430.81" y1="1153.70" x2="1430.81" y2="1148.70" stroke="#2e2e2e" stroke-width="2.20"/>
<line x1="1437.40" y1="1153.70" x2="1437.40" y2="1148.70" stroke="#2e2e2e" stroke-width="2.20"/>
<line x1="1443.30" y1="1153.70" x2="1443.30" y2="1144.70" stroke="#2e2e2e" stroke-width="2.20"/>
<line x1="1482.10" y1="1153.70" x2="1482.10" y2="1148.70" stroke="#2e2e2e" stroke-width="2.20"/>
<line x1="1504.80" y1="1153.70" x2="1504.80" y2="1148.70" stroke="#2e2e2e" stroke-width="2.20"/>
<line x1="1520.91" y1="1153.70" x2="1520.91" y2="1148.70" stroke="#2e2e2e" stroke-width="2.20"/>
<line x1="1533.40" y1="1153.70" x2="1533.40" y2="1148.70" stroke="#2e2e2e" stroke-width="2.20"/>
<line x1="1543.60" y1="1153.70" x2="1543.60" y2="1148.70" stroke="#2e2e2e" stroke-width="2.20"/>
<line x1="1552.23" y1="1153.70" x2="1552.23" y2="1148.70" stroke="#2e2e2e" stroke-width="2.20"/>
<line x1="1559.71" y1="1153.70" x2="1559.71" y2="1148.70" stroke="#2e2e2e" stroke-width="2.20"/>
<line x1="1566.30" y1="1153.70" x2="1566.30" y2="1148.70" stroke="#2e2e2e" stroke-width="2.20"/>
<line x1="927.70" y1="1033.68" x2="932.70" y2="1033.68" stroke="#2e2e2e" stroke-width="2.20"/>
<line x1="927.70" y1="963.47" x2="932.70" y2="963.47" stroke="#2e2e2e" stroke-width="2.20"/>
<line x1="927.70" y1="913.66" x2="932.70" y2="913.66" stroke="#2e2e2e" stroke-width="2.20"/>
<line x1="927.70" y1="875.02" x2="932.70" y2="875.02" stroke="#2e2e2e" stroke-width="2.20"/>
<line x1="927.70" y1="843.45" x2="932.70" y2="843.45" stroke="#2e2e2e" stroke-width="2.20"/>
<line x1="927.70" y1="816.76" x2="932.70" y2="816.76" stroke="#2e2e2e" stroke-width="2.20"/>
<line x1="927.70" y1="793.64" x2="932.70" y2="793.64" stroke="#2e2e2e" stroke-width="2.20"/>
<line x1="927.70" y1="773.24" x2="932.70" y2="773.24" stroke="#2e2e2e" stroke-width="2.20"/>
<line x1="927.70" y1="755.00" x2="937.70" y2="755.00" stroke="#2e2e2e" stroke-width="2.20"/>
<line x1="1055.00" y1="754.00" x2="1314.50" y2="1073.50" stroke="#000" stroke-width="3.30"/>
<circle cx="1031.50" cy="768.00" r="6.40" fill="#000"/>
<circle cx="1071.00" cy="812.00" r="6.40" fill="#000"/>
<circle cx="1081.00" cy="812.00" r="6.40" fill="#000"/>
<circle cx="1044.00" cy="857.50" r="6.40" fill="#000"/>
<circle cx="1079.60" cy="981.00" r="6.40" fill="#000"/>
<circle cx="1243.50" cy="760.50" r="6.40" fill="#000"/>
<circle cx="1269.60" cy="769.50" r="6.40" fill="#000"/>
<circle cx="1230.50" cy="893.50" r="6.40" fill="#000"/>
<circle cx="1223.50" cy="918.00" r="6.40" fill="#000"/>
<circle cx="1365.40" cy="926.00" r="6.40" fill="#000"/>
<circle cx="1294.70" cy="947.50" r="6.40" fill="#000"/>
<circle cx="1310.00" cy="963.50" r="6.40" fill="#000"/>
<circle cx="1383.00" cy="1004.00" r="6.40" fill="#000"/>
<polygon points="1445.60,994.00 1449.18,1003.57 1459.39,1004.02 1451.39,1010.38 1454.12,1020.23 1445.60,1014.59 1437.08,1020.23 1439.81,1010.38 1431.81,1004.02 1442.02,1003.57" fill="#f5141c"/>
<rect x="1716.70" y="634.90" width="629.40" height="508.90" fill="none" stroke="#484848" stroke-width="2.90"/>
<line x1="1754.59" y1="1143.80" x2="1754.59" y2="1138.80" stroke="#2e2e2e" stroke-width="2.20"/>
<line x1="1776.76" y1="1143.80" x2="1776.76" y2="1138.80" stroke="#2e2e2e" stroke-width="2.20"/>
<line x1="1792.49" y1="1143.80" x2="1792.49" y2="1138.80" stroke="#2e2e2e" stroke-width="2.20"/>
<line x1="1804.69" y1="1143.80" x2="1804.69" y2="1138.80" stroke="#2e2e2e" stroke-width="2.20"/>
<line x1="1814.65" y1="1143.80" x2="1814.65" y2="1138.80" stroke="#2e2e2e" stroke-width="2.20"/>
<line x1="1823.08" y1="1143.80" x2="1823.08" y2="1138.80" stroke="#2e2e2e" stroke-width="2.20"/>
<line x1="1830.38" y1="1143.80" x2="1830.38" y2="1138.80" stroke="#2e2e2e" stroke-width="2.20"/>
<line x1="1836.82" y1="1143.80" x2="1836.82" y2="1138.80" stroke="#2e2e2e" stroke-width="2.20"/>
<line x1="1842.58" y1="1143.80" x2="1842.58" y2="1134.80" stroke="#2e2e2e" stroke-width="2.20"/>
<line x1="1880.47" y1="1143.80" x2="1880.47" y2="1138.80" stroke="#2e2e2e" stroke-width="2.20"/>
<line x1="1902.64" y1="1143.80" x2="1902.64" y2="1138.80" stroke="#2e2e2e" stroke-width="2.20"/>
<line x1="1918.37" y1="1143.80" x2="1918.37" y2="1138.80" stroke="#2e2e2e" stroke-width="2.20"/>
<line x1="1930.57" y1="1143.80" x2="1930.57" y2="1138.80" stroke="#2e2e2e" stroke-width="2.20"/>
<line x1="1940.53" y1="1143.80" x2="1940.53" y2="1138.80" stroke="#2e2e2e" stroke-width="2.20"/>
<line x1="1948.96" y1="1143.80" x2="1948.96" y2="1138.80" stroke="#2e2e2e" stroke-width="2.20"/>
<line x1="1956.26" y1="1143.80" x2="1956.26" y2="1138.80" stroke="#2e2e2e" stroke-width="2.20"/>
<line x1="1962.70" y1="1143.80" x2="1962.70" y2="1138.80" stroke="#2e2e2e" stroke-width="2.20"/>
<line x1="1968.46" y1="1143.80" x2="1968.46" y2="1134.80" stroke="#2e2e2e" stroke-width="2.20"/>
<line x1="2006.35" y1="1143.80" x2="2006.35" y2="1138.80" stroke="#2e2e2e" stroke-width="2.20"/>
<line x1="2028.52" y1="1143.80" x2="2028.52" y2="1138.80" stroke="#2e2e2e" stroke-width="2.20"/>
<line x1="2044.25" y1="1143.80" x2="2044.25" y2="1138.80" stroke="#2e2e2e" stroke-width="2.20"/>
<line x1="2056.45" y1="1143.80" x2="2056.45" y2="1138.80" stroke="#2e2e2e" stroke-width="2.20"/>
<line x1="2066.41" y1="1143.80" x2="2066.41" y2="1138.80" stroke="#2e2e2e" stroke-width="2.20"/>
<line x1="2074.84" y1="1143.80" x2="2074.84" y2="1138.80" stroke="#2e2e2e" stroke-width="2.20"/>
<line x1="2082.14" y1="1143.80" x2="2082.14" y2="1138.80" stroke="#2e2e2e" stroke-width="2.20"/>
<line x1="2088.58" y1="1143.80" x2="2088.58" y2="1138.80" stroke="#2e2e2e" stroke-width="2.20"/>
<line x1="2094.34" y1="1143.80" x2="2094.34" y2="1134.80" stroke="#2e2e2e" stroke-width="2.20"/>
<line x1="2132.23" y1="1143.80" x2="2132.23" y2="1138.80" stroke="#2e2e2e" stroke-width="2.20"/>
<line x1="2154.40" y1="1143.80" x2="2154.40" y2="1138.80" stroke="#2e2e2e" stroke-width="2.20"/>
<line x1="2170.13" y1="1143.80" x2="2170.13" y2="1138.80" stroke="#2e2e2e" stroke-width="2.20"/>
<line x1="2182.33" y1="1143.80" x2="2182.33" y2="1138.80" stroke="#2e2e2e" stroke-width="2.20"/>
<line x1="2192.29" y1="1143.80" x2="2192.29" y2="1138.80" stroke="#2e2e2e" stroke-width="2.20"/>
<line x1="2200.72" y1="1143.80" x2="2200.72" y2="1138.80" stroke="#2e2e2e" stroke-width="2.20"/>
<line x1="2208.02" y1="1143.80" x2="2208.02" y2="1138.80" stroke="#2e2e2e" stroke-width="2.20"/>
<line x1="2214.46" y1="1143.80" x2="2214.46" y2="1138.80" stroke="#2e2e2e" stroke-width="2.20"/>
<line x1="2220.22" y1="1143.80" x2="2220.22" y2="1134.80" stroke="#2e2e2e" stroke-width="2.20"/>
<line x1="2258.11" y1="1143.80" x2="2258.11" y2="1138.80" stroke="#2e2e2e" stroke-width="2.20"/>
<line x1="2280.28" y1="1143.80" x2="2280.28" y2="1138.80" stroke="#2e2e2e" stroke-width="2.20"/>
<line x1="2296.01" y1="1143.80" x2="2296.01" y2="1138.80" stroke="#2e2e2e" stroke-width="2.20"/>
<line x1="2308.21" y1="1143.80" x2="2308.21" y2="1138.80" stroke="#2e2e2e" stroke-width="2.20"/>
<line x1="2318.17" y1="1143.80" x2="2318.17" y2="1138.80" stroke="#2e2e2e" stroke-width="2.20"/>
<line x1="2326.60" y1="1143.80" x2="2326.60" y2="1138.80" stroke="#2e2e2e" stroke-width="2.20"/>
<line x1="2333.90" y1="1143.80" x2="2333.90" y2="1138.80" stroke="#2e2e2e" stroke-width="2.20"/>
<line x1="2340.34" y1="1143.80" x2="2340.34" y2="1138.80" stroke="#2e2e2e" stroke-width="2.20"/>
<line x1="1716.70" y1="1123.29" x2="1721.70" y2="1123.29" stroke="#2e2e2e" stroke-width="2.20"/>
<line x1="1716.70" y1="1083.22" x2="1721.70" y2="1083.22" stroke="#2e2e2e" stroke-width="2.20"/>
<line x1="1716.70" y1="1052.14" x2="1721.70" y2="1052.14" stroke="#2e2e2e" stroke-width="2.20"/>
<line x1="1716.70" y1="1026.75" x2="1721.70" y2="1026.75" stroke="#2e2e2e" stroke-width="2.20"/>
<line x1="1716.70" y1="1005.28" x2="1721.70" y2="1005.28" stroke="#2e2e2e" stroke-width="2.20"/>
<line x1="1716.70" y1="986.68" x2="1721.70" y2="986.68" stroke="#2e2e2e" stroke-width="2.20"/>
<line x1="1716.70" y1="970.27" x2="1721.70" y2="970.27" stroke="#2e2e2e" stroke-width="2.20"/>
<line x1="1716.70" y1="955.60" x2="1726.70" y2="955.60" stroke="#2e2e2e" stroke-width="2.20"/>
<line x1="1716.70" y1="859.06" x2="1721.70" y2="859.06" stroke="#2e2e2e" stroke-width="2.20"/>
<line x1="1716.70" y1="802.59" x2="1721.70" y2="802.59" stroke="#2e2e2e" stroke-width="2.20"/>
<line x1="1716.70" y1="762.52" x2="1721.70" y2="762.52" stroke="#2e2e2e" stroke-width="2.20"/>
<line x1="1716.70" y1="731.44" x2="1721.70" y2="731.44" stroke="#2e2e2e" stroke-width="2.20"/>
<line x1="1716.70" y1="706.05" x2="1721.70" y2="706.05" stroke="#2e2e2e" stroke-width="2.20"/>
<line x1="1716.70" y1="684.58" x2="1721.70" y2="684.58" stroke="#2e2e2e" stroke-width="2.20"/>
<line x1="1716.70" y1="665.98" x2="1721.70" y2="665.98" stroke="#2e2e2e" stroke-width="2.20"/>
<line x1="1716.70" y1="649.57" x2="1721.70" y2="649.57" stroke="#2e2e2e" stroke-width="2.20"/>
<line x1="1841.60" y1="689.70" x2="2184.00" y2="1038.50" stroke="#000" stroke-width="3.30"/>
<circle cx="1849.00" cy="717.70" r="6.40" fill="#000"/>
<circle cx="1950.00" cy="747.00" r="6.40" fill="#000"/>
<circle cx="2025.60" cy="802.00" r="6.40" fill="#000"/>
<circle cx="1830.00" cy="825.50" r="6.40" fill="#000"/>
<circle cx="1864.70" cy="839.00" r="6.40" fill="#000"/>
<circle cx="2145.00" cy="834.50" r="6.40" fill="#000"/>
<circle cx="2034.60" cy="889.70" r="6.40" fill="#000"/>
<circle cx="2075.70" cy="950.00" r="6.40" fill="#000"/>
<circle cx="2162.00" cy="983.00" r="6.40" fill="#000"/>
<polygon points="2222.60,886.00 2225.93,894.91 2235.44,895.33 2227.99,901.25 2230.54,910.42 2222.60,905.17 2214.66,910.42 2217.21,901.25 2209.76,895.33 2219.27,894.91" fill="#f5141c"/>
</g>
<g filter="url(#bt)">
<text x="133.50" y="515.70" font-size="22.00" font-weight="normal" text-anchor="end" fill="#1c1c1c" stroke="#1c1c1c" stroke-width="0.30">0</text>
<text x="133.50" y="450.80" font-size="22.00" font-weight="normal" text-anchor="end" fill="#1c1c1c" stroke="#1c1c1c" stroke-width="0.30">20</text>
<text x="133.50" y="385.90" font-size="22.00" font-weight="normal" text-anchor="end" fill="#1c1c1c" stroke="#1c1c1c" stroke-width="0.30">40</text>
<text x="133.50" y="321.00" font-size="22.00" font-weight="normal" text-anchor="end" fill="#1c1c1c" stroke="#1c1c1c" stroke-width="0.30">60</text>
<text x="133.50" y="256.10" font-size="22.00" font-weight="normal" text-anchor="end" fill="#1c1c1c" stroke="#1c1c1c" stroke-width="0.30">80</text>
<text x="133.50" y="191.20" font-size="22.00" font-weight="normal" text-anchor="end" fill="#1c1c1c" stroke="#1c1c1c" stroke-width="0.30">100</text>
<text x="133.50" y="126.30" font-size="22.00" font-weight="normal" text-anchor="end" fill="#1c1c1c" stroke="#1c1c1c" stroke-width="0.30">120</text>
<text x="133.50" y="61.40" font-size="22.00" font-weight="normal" text-anchor="end" fill="#1c1c1c" stroke="#1c1c1c" stroke-width="0.30">140</text>
<text x="198.50" y="570.50" font-size="22.00" font-weight="normal" text-anchor="middle" fill="#1c1c1c" stroke="#1c1c1c" stroke-width="0.30">0.0</text>
<text x="306.00" y="570.50" font-size="22.00" font-weight="normal" text-anchor="middle" fill="#1c1c1c" stroke="#1c1c1c" stroke-width="0.30">0.2</text>
<text x="413.50" y="570.50" font-size="22.00" font-weight="normal" text-anchor="middle" fill="#1c1c1c" stroke="#1c1c1c" stroke-width="0.30">0.4</text>
<text x="521.00" y="570.50" font-size="22.00" font-weight="normal" text-anchor="middle" fill="#1c1c1c" stroke="#1c1c1c" stroke-width="0.30">0.6</text>
<text x="628.50" y="570.50" font-size="22.00" font-weight="normal" text-anchor="middle" fill="#1c1c1c" stroke="#1c1c1c" stroke-width="0.30">0.8</text>
<text x="736.00" y="570.50" font-size="22.00" font-weight="normal" text-anchor="middle" fill="#1c1c1c" stroke="#1c1c1c" stroke-width="0.30">1.0</text>
<text x="234.00" y="65.00" font-size="27.00" font-weight="normal" text-anchor="start" fill="#1c1c1c">CO<tspan dy="5.94" font-size="16.74">2</tspan></text>
<text x="234.00" y="105.00" font-size="27.00" font-weight="normal" text-anchor="start" fill="#1c1c1c">CH<tspan dy="5.94" font-size="16.74">4</tspan></text>
<text x="234.00" y="145.00" font-size="27.00" font-weight="normal" text-anchor="start" fill="#1c1c1c">N<tspan dy="5.94" font-size="16.74">2</tspan></text>
<text x="31.10" y="95.50" font-size="62.00" font-weight="bold" text-anchor="start" fill="#000">(a)</text>
<text x="89.50" y="281.50" font-size="27.30" font-weight="bold" text-anchor="middle" fill="#000" transform="rotate(-90 89.50 281.50)" textLength="269.00" lengthAdjust="spacingAndGlyphs">d-UIO uptake (cm<tspan dy="-11.47" font-size="16.93">3</tspan><tspan dy="11.47">·g</tspan><tspan dy="-11.47" font-size="16.93">-1</tspan><tspan dy="11.47">)</tspan></text>
<text x="467.20" y="613.00" font-size="27.30" font-weight="bold" text-anchor="middle" fill="#000" textLength="276.50" lengthAdjust="spacingAndGlyphs">Relative Pressure (P/P<tspan dy="6.01" font-size="16.93">0</tspan><tspan dy="-6.01">)</tspan></text>
<text x="945.30" y="111.00" font-size="22.00" font-weight="normal" text-anchor="end" fill="#1c1c1c" stroke="#1c1c1c" stroke-width="0.30" textLength="61.00" lengthAdjust="spacingAndGlyphs">10,000</text>
<text x="941.50" y="395.50" font-size="22.00" font-weight="normal" text-anchor="end" fill="#1c1c1c" stroke="#1c1c1c" stroke-width="0.30" textLength="43.00" lengthAdjust="spacingAndGlyphs">1000</text>
<text x="952.50" y="565.70" font-size="23.30" font-weight="normal" text-anchor="middle" fill="#1c1c1c" stroke="#1c1c1c" stroke-width="0.30" textLength="38.50" lengthAdjust="spacingAndGlyphs">0.28</text>
<text x="1069.70" y="565.70" font-size="23.30" font-weight="normal" text-anchor="middle" fill="#1c1c1c" stroke="#1c1c1c" stroke-width="0.30" textLength="38.50" lengthAdjust="spacingAndGlyphs">0.30</text>
<text x="1186.90" y="565.70" font-size="23.30" font-weight="normal" text-anchor="middle" fill="#1c1c1c" stroke="#1c1c1c" stroke-width="0.30" textLength="38.50" lengthAdjust="spacingAndGlyphs">0.32</text>
<text x="1304.10" y="565.70" font-size="23.30" font-weight="normal" text-anchor="middle" fill="#1c1c1c" stroke="#1c1c1c" stroke-width="0.30" textLength="38.50" lengthAdjust="spacingAndGlyphs">0.34</text>
<text x="1421.30" y="565.70" font-size="23.30" font-weight="normal" text-anchor="middle" fill="#1c1c1c" stroke="#1c1c1c" stroke-width="0.30" textLength="38.50" lengthAdjust="spacingAndGlyphs">0.36</text>
<text x="1538.50" y="565.70" font-size="23.30" font-weight="normal" text-anchor="middle" fill="#1c1c1c" stroke="#1c1c1c" stroke-width="0.30" textLength="38.50" lengthAdjust="spacingAndGlyphs">0.38</text>
<text x="996.00" y="504.00" font-size="12.00" font-weight="normal" text-anchor="end" fill="#555">0</text>
<text x="996.00" y="453.60" font-size="12.00" font-weight="normal" text-anchor="end" fill="#555">5</text>
<text x="996.00" y="403.20" font-size="12.00" font-weight="normal" text-anchor="end" fill="#555">10</text>
<text x="996.00" y="352.80" font-size="12.00" font-weight="normal" text-anchor="end" fill="#555">15</text>
<text x="996.00" y="302.40" font-size="12.00" font-weight="normal" text-anchor="end" fill="#555">20</text>
<text x="996.00" y="252.00" font-size="12.00" font-weight="normal" text-anchor="end" fill="#555">25</text>
<text x="1043.50" y="520.00" font-size="16.50" font-weight="bold" text-anchor="middle" fill="#222" textLength="49.00" lengthAdjust="spacingAndGlyphs">αH<tspan dy="3.63" font-size="10.23">2</tspan><tspan dy="-3.63">/N</tspan><tspan dy="3.63" font-size="10.23">2</tspan></text>
<text x="1132.00" y="520.00" font-size="16.50" font-weight="bold" text-anchor="middle" fill="#222" textLength="62.00" lengthAdjust="spacingAndGlyphs">αH<tspan dy="3.63" font-size="10.23">2</tspan><tspan dy="-3.63">/CH</tspan><tspan dy="3.63" font-size="10.23">4</tspan></text>
<text x="1219.30" y="520.00" font-size="16.50" font-weight="bold" text-anchor="middle" fill="#222" textLength="59.50" lengthAdjust="spacingAndGlyphs">αCO<tspan dy="3.63" font-size="10.23">2</tspan><tspan dy="-3.63">/N</tspan><tspan dy="3.63" font-size="10.23">2</tspan></text>
<text x="1307.00" y="520.00" font-size="16.50" font-weight="bold" text-anchor="middle" fill="#222" textLength="72.00" lengthAdjust="spacingAndGlyphs">αCO<tspan dy="3.63" font-size="10.23">2</tspan><tspan dy="-3.63">/CH</tspan><tspan dy="3.63" font-size="10.23">4</tspan></text>
<text x="977.00" y="357.50" font-size="15.50" font-weight="bold" text-anchor="middle" fill="#222" transform="rotate(-90 977.00 357.50)" textLength="105.00" lengthAdjust="spacingAndGlyphs">Ideal selectivity</text>
<text x="986.00" y="75.00" font-size="27.00" font-weight="normal" text-anchor="start" fill="#1c1c1c">H<tspan dy="5.94" font-size="18.36">2</tspan></text>
<text x="1211.00" y="87.00" font-size="27.00" font-weight="normal" text-anchor="start" fill="#1c1c1c">CO<tspan dy="5.94" font-size="18.36">2</tspan></text>
<text x="1373.00" y="492.00" font-size="27.00" font-weight="normal" text-anchor="start" fill="#1c1c1c">N<tspan dy="5.94" font-size="18.36">2</tspan></text>
<text x="1515.00" y="494.00" font-size="27.00" font-weight="normal" text-anchor="start" fill="#1c1c1c">CH<tspan dy="5.94" font-size="18.36">4</tspan></text>
<text x="782.20" y="80.80" font-size="62.00" font-weight="bold" text-anchor="start" fill="#000">(b)</text>
<text x="875.50" y="277.20" font-size="27.30" font-weight="bold" text-anchor="middle" fill="#000" transform="rotate(-90 875.50 277.20)" textLength="494.00" lengthAdjust="spacingAndGlyphs">d-UIO-3@TUT-PVDF permeability (GPU)</text>
<text x="1275.00" y="608.70" font-size="27.30" font-weight="bold" text-anchor="middle" fill="#000" textLength="255.00" lengthAdjust="spacingAndGlyphs">Kinetic diameter (nm)</text>
<text x="1737.60" y="125.20" font-size="22.00" font-weight="normal" text-anchor="end" fill="#1c1c1c" stroke="#1c1c1c" stroke-width="0.30" textLength="61.00" lengthAdjust="spacingAndGlyphs">10,000</text>
<text x="1734.30" y="400.20" font-size="22.00" font-weight="normal" text-anchor="end" fill="#1c1c1c" stroke="#1c1c1c" stroke-width="0.30" textLength="45.00" lengthAdjust="spacingAndGlyphs">1000</text>
<text x="1922.00" y="59.00" font-size="27.00" font-weight="normal" text-anchor="start" fill="#1c1c1c">H<tspan dy="5.94" font-size="16.74">2</tspan></text>
<text x="2018.50" y="59.00" font-size="27.00" font-weight="normal" text-anchor="start" fill="#1c1c1c">CO<tspan dy="5.94" font-size="16.74">2</tspan></text>
<text x="2133.00" y="59.00" font-size="27.00" font-weight="normal" text-anchor="start" fill="#1c1c1c">N<tspan dy="5.94" font-size="16.74">2</tspan></text>
<text x="2230.50" y="59.00" font-size="27.00" font-weight="normal" text-anchor="start" fill="#1c1c1c">CH<tspan dy="5.94" font-size="16.74">4</tspan></text>
<text x="1687.50" y="566.00" font-size="23.50" font-weight="normal" text-anchor="start" fill="#1c1c1c" stroke="#1c1c1c" stroke-width="0.30" textLength="254.50" lengthAdjust="spacingAndGlyphs">pristine PVDF membrane1</text>
<text x="2063.50" y="566.00" font-size="23.50" font-weight="normal" text-anchor="middle" fill="#1c1c1c" stroke="#1c1c1c" stroke-width="0.30">2</text>
<text x="2191.00" y="566.00" font-size="23.50" font-weight="normal" text-anchor="middle" fill="#1c1c1c" stroke="#1c1c1c" stroke-width="0.30">3</text>
<text x="2318.00" y="566.00" font-size="23.50" font-weight="normal" text-anchor="middle" fill="#1c1c1c" stroke="#1c1c1c" stroke-width="0.30">4</text>
<text x="1615.50" y="63.20" font-size="62.00" font-weight="bold" text-anchor="start" fill="#000">(c)</text>
<text x="1662.00" y="280.00" font-size="29.50" font-weight="bold" text-anchor="middle" fill="#000" transform="rotate(-90 1662.00 280.00)" textLength="302.50" lengthAdjust="spacingAndGlyphs">Gas permeability (GPU)</text>
<text x="2064.80" y="612.70" font-size="29.00" font-weight="bold" text-anchor="middle" fill="#000" textLength="255.50" lengthAdjust="spacingAndGlyphs">d-UIO@TUT-PVDF</text>
<text x="141.70" y="1157.50" font-size="22.00" font-weight="normal" text-anchor="end" fill="#1c1c1c" stroke="#1c1c1c" stroke-width="0.30" textLength="10.00" lengthAdjust="spacingAndGlyphs">0</text>
<text x="141.70" y="1106.67" font-size="22.00" font-weight="normal" text-anchor="end" fill="#1c1c1c" stroke="#1c1c1c" stroke-width="0.30" textLength="10.00" lengthAdjust="spacingAndGlyphs">3</text>
<text x="141.70" y="1055.84" font-size="22.00" font-weight="normal" text-anchor="end" fill="#1c1c1c" stroke="#1c1c1c" stroke-width="0.30" textLength="10.00" lengthAdjust="spacingAndGlyphs">6</text>
<text x="141.70" y="1005.01" font-size="22.00" font-weight="normal" text-anchor="end" fill="#1c1c1c" stroke="#1c1c1c" stroke-width="0.30" textLength="10.00" lengthAdjust="spacingAndGlyphs">9</text>
<text x="141.70" y="954.18" font-size="22.00" font-weight="normal" text-anchor="end" fill="#1c1c1c" stroke="#1c1c1c" stroke-width="0.30" textLength="20.20" lengthAdjust="spacingAndGlyphs">12</text>
<text x="141.70" y="903.35" font-size="22.00" font-weight="normal" text-anchor="end" fill="#1c1c1c" stroke="#1c1c1c" stroke-width="0.30" textLength="20.20" lengthAdjust="spacingAndGlyphs">15</text>
<text x="141.70" y="852.52" font-size="22.00" font-weight="normal" text-anchor="end" fill="#1c1c1c" stroke="#1c1c1c" stroke-width="0.30" textLength="20.20" lengthAdjust="spacingAndGlyphs">18</text>
<text x="141.70" y="801.69" font-size="22.00" font-weight="normal" text-anchor="end" fill="#1c1c1c" stroke="#1c1c1c" stroke-width="0.30" textLength="20.20" lengthAdjust="spacingAndGlyphs">21</text>
<text x="141.70" y="750.86" font-size="22.00" font-weight="normal" text-anchor="end" fill="#1c1c1c" stroke="#1c1c1c" stroke-width="0.30" textLength="20.20" lengthAdjust="spacingAndGlyphs">24</text>
<text x="141.70" y="700.03" font-size="22.00" font-weight="normal" text-anchor="end" fill="#1c1c1c" stroke="#1c1c1c" stroke-width="0.30" textLength="20.20" lengthAdjust="spacingAndGlyphs">27</text>
<text x="141.70" y="649.20" font-size="22.00" font-weight="normal" text-anchor="end" fill="#1c1c1c" stroke="#1c1c1c" stroke-width="0.30" textLength="20.20" lengthAdjust="spacingAndGlyphs">30</text>
<text x="231.00" y="675.50" font-size="25.00" font-weight="normal" text-anchor="start" fill="#1c1c1c" textLength="72.00" lengthAdjust="spacingAndGlyphs">αH<tspan dy="5.50" font-size="15.50">2</tspan><tspan dy="-5.50">/N</tspan><tspan dy="5.50" font-size="15.50">2</tspan></text>
<text x="231.00" y="711.50" font-size="25.00" font-weight="normal" text-anchor="start" fill="#1c1c1c" textLength="88.00" lengthAdjust="spacingAndGlyphs">αH<tspan dy="5.50" font-size="15.50">2</tspan><tspan dy="-5.50">/CH</tspan><tspan dy="5.50" font-size="15.50">4</tspan></text>
<text x="231.00" y="747.50" font-size="25.00" font-weight="normal" text-anchor="start" fill="#1c1c1c" textLength="88.00" lengthAdjust="spacingAndGlyphs">αCO<tspan dy="5.50" font-size="15.50">2</tspan><tspan dy="-5.50">/N</tspan><tspan dy="5.50" font-size="15.50">2</tspan></text>
<text x="231.00" y="783.50" font-size="25.00" font-weight="normal" text-anchor="start" fill="#1c1c1c" textLength="104.60" lengthAdjust="spacingAndGlyphs">αCO<tspan dy="5.50" font-size="15.50">2</tspan><tspan dy="-5.50">/CH</tspan><tspan dy="5.50" font-size="15.50">4</tspan></text>
<text x="105.00" y="1178.00" font-size="21.50" font-weight="normal" text-anchor="start" fill="#1c1c1c" stroke="#1c1c1c" stroke-width="0.30" textLength="221.00" lengthAdjust="spacingAndGlyphs">pristine PVDF membrane</text>
<text x="341.00" y="1178.00" font-size="21.50" font-weight="normal" text-anchor="middle" fill="#1c1c1c" stroke="#1c1c1c" stroke-width="0.30">1</text>
<text x="467.00" y="1178.00" font-size="21.50" font-weight="normal" text-anchor="middle" fill="#1c1c1c" stroke="#1c1c1c" stroke-width="0.30">2</text>
<text x="593.00" y="1178.00" font-size="21.50" font-weight="normal" text-anchor="middle" fill="#1c1c1c" stroke="#1c1c1c" stroke-width="0.30">3</text>
<text x="718.50" y="1178.00" font-size="21.50" font-weight="normal" text-anchor="middle" fill="#1c1c1c" stroke="#1c1c1c" stroke-width="0.30">4</text>
<text x="31.10" y="691.70" font-size="62.00" font-weight="bold" text-anchor="start" fill="#000">(d)</text>
<text x="108.30" y="896.70" font-size="26.50" font-weight="bold" text-anchor="middle" fill="#000" transform="rotate(-90 108.30 896.70)" textLength="116.50" lengthAdjust="spacingAndGlyphs">Selectivity</text>
<text x="468.50" y="1221.50" font-size="27.00" font-weight="bold" text-anchor="middle" fill="#000" textLength="231.00" lengthAdjust="spacingAndGlyphs">d-UIO@TUT-PVDF</text>
<text x="928.20" y="1185.40" font-size="21.00" font-weight="normal" text-anchor="middle" fill="#1c1c1c" stroke="#1c1c1c" stroke-width="0.30">10<tspan dy="-9.45" font-size="12.60">1</tspan></text>
<text x="1057.10" y="1185.40" font-size="21.00" font-weight="normal" text-anchor="middle" fill="#1c1c1c" stroke="#1c1c1c" stroke-width="0.30">10<tspan dy="-9.45" font-size="12.60">2</tspan></text>
<text x="1186.00" y="1185.40" font-size="21.00" font-weight="normal" text-anchor="middle" fill="#1c1c1c" stroke="#1c1c1c" stroke-width="0.30">10<tspan dy="-9.45" font-size="12.60">3</tspan></text>
<text x="1314.90" y="1185.40" font-size="21.00" font-weight="normal" text-anchor="middle" fill="#1c1c1c" stroke="#1c1c1c" stroke-width="0.30">10<tspan dy="-9.45" font-size="12.60">4</tspan></text>
<text x="1443.80" y="1185.40" font-size="21.00" font-weight="normal" text-anchor="middle" fill="#1c1c1c" stroke="#1c1c1c" stroke-width="0.30">10<tspan dy="-9.45" font-size="12.60">5</tspan></text>
<text x="1572.70" y="1185.40" font-size="21.00" font-weight="normal" text-anchor="middle" fill="#1c1c1c" stroke="#1c1c1c" stroke-width="0.30">10<tspan dy="-9.45" font-size="12.60">6</tspan></text>
<text x="915.70" y="1162.90" font-size="21.00" font-weight="normal" text-anchor="end" fill="#1c1c1c" stroke="#1c1c1c" stroke-width="0.30">10<tspan dy="-9.45" font-size="12.60">1</tspan></text>
<text x="916.70" y="764.00" font-size="21.00" font-weight="normal" text-anchor="end" fill="#1c1c1c" stroke="#1c1c1c" stroke-width="0.30">10<tspan dy="-9.45" font-size="12.60">2</tspan></text>
<text x="941.00" y="746.00" font-size="16.50" font-weight="normal" text-anchor="start" fill="#262626" stroke="#262626" stroke-width="0.30" textLength="165.00" lengthAdjust="spacingAndGlyphs">MoS2–Pebax-0.15 wt%</text>
<text x="931.80" y="804.50" font-size="16.50" font-weight="normal" text-anchor="start" fill="#262626" stroke="#262626" stroke-width="0.30" textLength="141.00" lengthAdjust="spacingAndGlyphs">UIO-66-NH2-PEBA</text>
<text x="979.00" y="837.50" font-size="16.50" font-weight="normal" text-anchor="start" fill="#262626" stroke="#262626" stroke-width="0.30" textLength="120.00" lengthAdjust="spacingAndGlyphs">TpPa-1-nc-PEBA</text>
<text x="950.00" y="878.50" font-size="16.50" font-weight="normal" text-anchor="start" fill="#262626" stroke="#262626" stroke-width="0.30" textLength="95.50" lengthAdjust="spacingAndGlyphs">Pebax/PVC-8</text>
<text x="944.00" y="986.00" font-size="16.50" font-weight="normal" text-anchor="start" fill="#262626" stroke="#262626" stroke-width="0.30" textLength="125.00" lengthAdjust="spacingAndGlyphs">MOF-Polysulfone</text>
<text x="1191.00" y="750.00" font-size="16.50" font-weight="normal" text-anchor="start" fill="#262626" stroke="#262626" stroke-width="0.30" textLength="96.00" lengthAdjust="spacingAndGlyphs">PEBAX-PAN</text>
<text x="1290.00" y="775.50" font-size="16.50" font-weight="normal" text-anchor="start" fill="#262626" stroke="#262626" stroke-width="0.30" textLength="191.50" lengthAdjust="spacingAndGlyphs">TpPa0.025-PIP-TMC/mPSf</text>
<text x="1247.00" y="899.00" font-size="16.50" font-weight="normal" text-anchor="start" fill="#262626" stroke="#262626" stroke-width="0.30" textLength="103.00" lengthAdjust="spacingAndGlyphs">UiO-66-PVDF</text>
<text x="1246.00" y="924.00" font-size="16.50" font-weight="normal" text-anchor="start" fill="#262626" stroke="#262626" stroke-width="0.30" textLength="97.00" lengthAdjust="spacingAndGlyphs">PDMS&amp;MOF</text>
<text x="1380.00" y="934.50" font-size="16.50" font-weight="normal" text-anchor="start" fill="#262626" stroke="#262626" stroke-width="0.30" textLength="152.00" lengthAdjust="spacingAndGlyphs">UiO-66–NH2/cPIM-1</text>
<text x="1305.00" y="953.00" font-size="16.50" font-weight="normal" text-anchor="start" fill="#262626" stroke="#262626" stroke-width="0.30" textLength="106.50" lengthAdjust="spacingAndGlyphs">MWCNT-PAN</text>
<text x="1324.00" y="972.50" font-size="16.50" font-weight="normal" text-anchor="start" fill="#262626" stroke="#262626" stroke-width="0.30" textLength="117.50" lengthAdjust="spacingAndGlyphs">Pebax®/EO-PES</text>
<text x="1290.00" y="1029.50" font-size="16.50" font-weight="normal" text-anchor="start" fill="#262626" stroke="#262626" stroke-width="0.30" textLength="114.00" lengthAdjust="spacingAndGlyphs">Zeolite 4A-PAN</text>
<text x="1404.00" y="996.50" font-size="16.50" font-weight="normal" text-anchor="start" fill="#262626" stroke="#262626" stroke-width="0.30" textLength="157.00" lengthAdjust="spacingAndGlyphs">d-UIO-3@TUT-PVDF</text>
<text x="1092.50" y="857.00" font-size="19.60" font-weight="bold" text-anchor="start" fill="#000" transform="rotate(50.9 1092.50 857.00)" textLength="265.00" lengthAdjust="spacing">2019 Robeson’s upper bound</text>
<text x="813.90" y="695.70" font-size="62.00" font-weight="bold" text-anchor="start" fill="#000">(e)</text>
<text x="871.00" y="895.30" font-size="28.00" font-weight="bold" text-anchor="middle" fill="#000" transform="rotate(-90 871.00 895.30)" textLength="210.00" lengthAdjust="spacingAndGlyphs">CO<tspan dy="6.16" font-size="17.36">2</tspan><tspan dy="-6.16">/N</tspan><tspan dy="6.16" font-size="17.36">2</tspan><tspan dy="-6.16"> selectivity</tspan></text>
<text x="1249.30" y="1226.00" font-size="27.00" font-weight="bold" text-anchor="middle" fill="#000" textLength="307.00" lengthAdjust="spacingAndGlyphs">CO<tspan dy="5.94" font-size="16.74">2</tspan><tspan dy="-5.94"> permeability (Barrer)</tspan></text>
<text x="1717.20" y="1175.30" font-size="21.00" font-weight="normal" text-anchor="middle" fill="#1c1c1c" stroke="#1c1c1c" stroke-width="0.30">10<tspan dy="-9.45" font-size="12.60">1</tspan></text>
<text x="1843.08" y="1175.30" font-size="21.00" font-weight="normal" text-anchor="middle" fill="#1c1c1c" stroke="#1c1c1c" stroke-width="0.30">10<tspan dy="-9.45" font-size="12.60">2</tspan></text>
<text x="1968.96" y="1175.30" font-size="21.00" font-weight="normal" text-anchor="middle" fill="#1c1c1c" stroke="#1c1c1c" stroke-width="0.30">10<tspan dy="-9.45" font-size="12.60">3</tspan></text>
<text x="2094.84" y="1175.30" font-size="21.00" font-weight="normal" text-anchor="middle" fill="#1c1c1c" stroke="#1c1c1c" stroke-width="0.30">10<tspan dy="-9.45" font-size="12.60">4</tspan></text>
<text x="2220.72" y="1175.30" font-size="21.00" font-weight="normal" text-anchor="middle" fill="#1c1c1c" stroke="#1c1c1c" stroke-width="0.30">10<tspan dy="-9.45" font-size="12.60">5</tspan></text>
<text x="2346.60" y="1175.30" font-size="21.00" font-weight="normal" text-anchor="middle" fill="#1c1c1c" stroke="#1c1c1c" stroke-width="0.30">10<tspan dy="-9.45" font-size="12.60">6</tspan></text>
<text x="1704.70" y="642.90" font-size="21.00" font-weight="normal" text-anchor="end" fill="#1c1c1c" stroke="#1c1c1c" stroke-width="0.30">10<tspan dy="-9.45" font-size="12.60">2</tspan></text>
<text x="1704.70" y="962.30" font-size="21.00" font-weight="normal" text-anchor="end" fill="#1c1c1c" stroke="#1c1c1c" stroke-width="0.30">10<tspan dy="-9.45" font-size="12.60">1</tspan></text>
<text x="1754.00" y="729.50" font-size="16.50" font-weight="normal" text-anchor="start" fill="#262626" stroke="#262626" stroke-width="0.30" textLength="80.60" lengthAdjust="spacingAndGlyphs">MOF-P84®</text>
<text x="1972.00" y="752.50" font-size="16.50" font-weight="normal" text-anchor="start" fill="#262626" stroke="#262626" stroke-width="0.30" textLength="195.50" lengthAdjust="spacingAndGlyphs">PMMA/20wt%NH2-MIL-53</text>
<text x="2051.00" y="800.50" font-size="16.50" font-weight="normal" text-anchor="start" fill="#262626" stroke="#262626" stroke-width="0.30" textLength="94.00" lengthAdjust="spacingAndGlyphs">PEBAX-PAN</text>
<text x="1742.00" y="808.50" font-size="16.50" font-weight="normal" text-anchor="start" fill="#262626" stroke="#262626" stroke-width="0.30" textLength="91.60" lengthAdjust="spacingAndGlyphs">Pebax/PVC-8</text>
<text x="1745.00" y="863.00" font-size="16.50" font-weight="normal" text-anchor="start" fill="#262626" stroke="#262626" stroke-width="0.30" textLength="123.00" lengthAdjust="spacingAndGlyphs">MOF-Polysulfone</text>
<text x="2108.80" y="856.00" font-size="16.50" font-weight="normal" text-anchor="start" fill="#262626" stroke="#262626" stroke-width="0.30" textLength="149.00" lengthAdjust="spacingAndGlyphs">UiO-66–NH2/cPIM-1</text>
<text x="1899.70" y="904.00" font-size="16.50" font-weight="normal" text-anchor="start" fill="#262626" stroke="#262626" stroke-width="0.30" textLength="120.50" lengthAdjust="spacingAndGlyphs">C60(OH)24-PAN</text>
<text x="2181.50" y="925.50" font-size="16.50" font-weight="normal" text-anchor="start" fill="#262626" stroke="#262626" stroke-width="0.30" textLength="154.50" lengthAdjust="spacingAndGlyphs">d-UIO-3@TUT-PVDF</text>
<text x="1957.00" y="961.00" font-size="16.50" font-weight="normal" text-anchor="start" fill="#262626" stroke="#262626" stroke-width="0.30" textLength="101.60" lengthAdjust="spacingAndGlyphs">MWCNT-PAN</text>
<text x="2181.50" y="990.50" font-size="16.50" font-weight="normal" text-anchor="start" fill="#262626" stroke="#262626" stroke-width="0.30" textLength="110.00" lengthAdjust="spacingAndGlyphs">Zeolite 4A-PAN</text>
<text x="1958.00" y="788.00" font-size="19.60" font-weight="bold" text-anchor="start" fill="#000" transform="rotate(45.5 1958.00 788.00)" textLength="258.00" lengthAdjust="spacing">2019 Robeson’s upper bound</text>
<text x="1598.80" y="697.00" font-size="62.00" font-weight="bold" text-anchor="start" fill="#000">(f)</text>
<text x="1661.00" y="888.00" font-size="27.00" font-weight="bold" text-anchor="middle" fill="#000" transform="rotate(-90 1661.00 888.00)" textLength="221.50" lengthAdjust="spacingAndGlyphs">CO<tspan dy="5.94" font-size="16.74">2</tspan><tspan dy="-5.94">/CH</tspan><tspan dy="5.94" font-size="16.74">4</tspan><tspan dy="-5.94"> selectivity</tspan></text>
<text x="2031.60" y="1212.00" font-size="27.00" font-weight="bold" text-anchor="middle" fill="#000" textLength="300.50" lengthAdjust="spacingAndGlyphs">CO<tspan dy="5.94" font-size="16.74">2</tspan><tspan dy="-5.94"> permeability (Barrer)</tspan></text>
</g>
</svg>
</body></html>
